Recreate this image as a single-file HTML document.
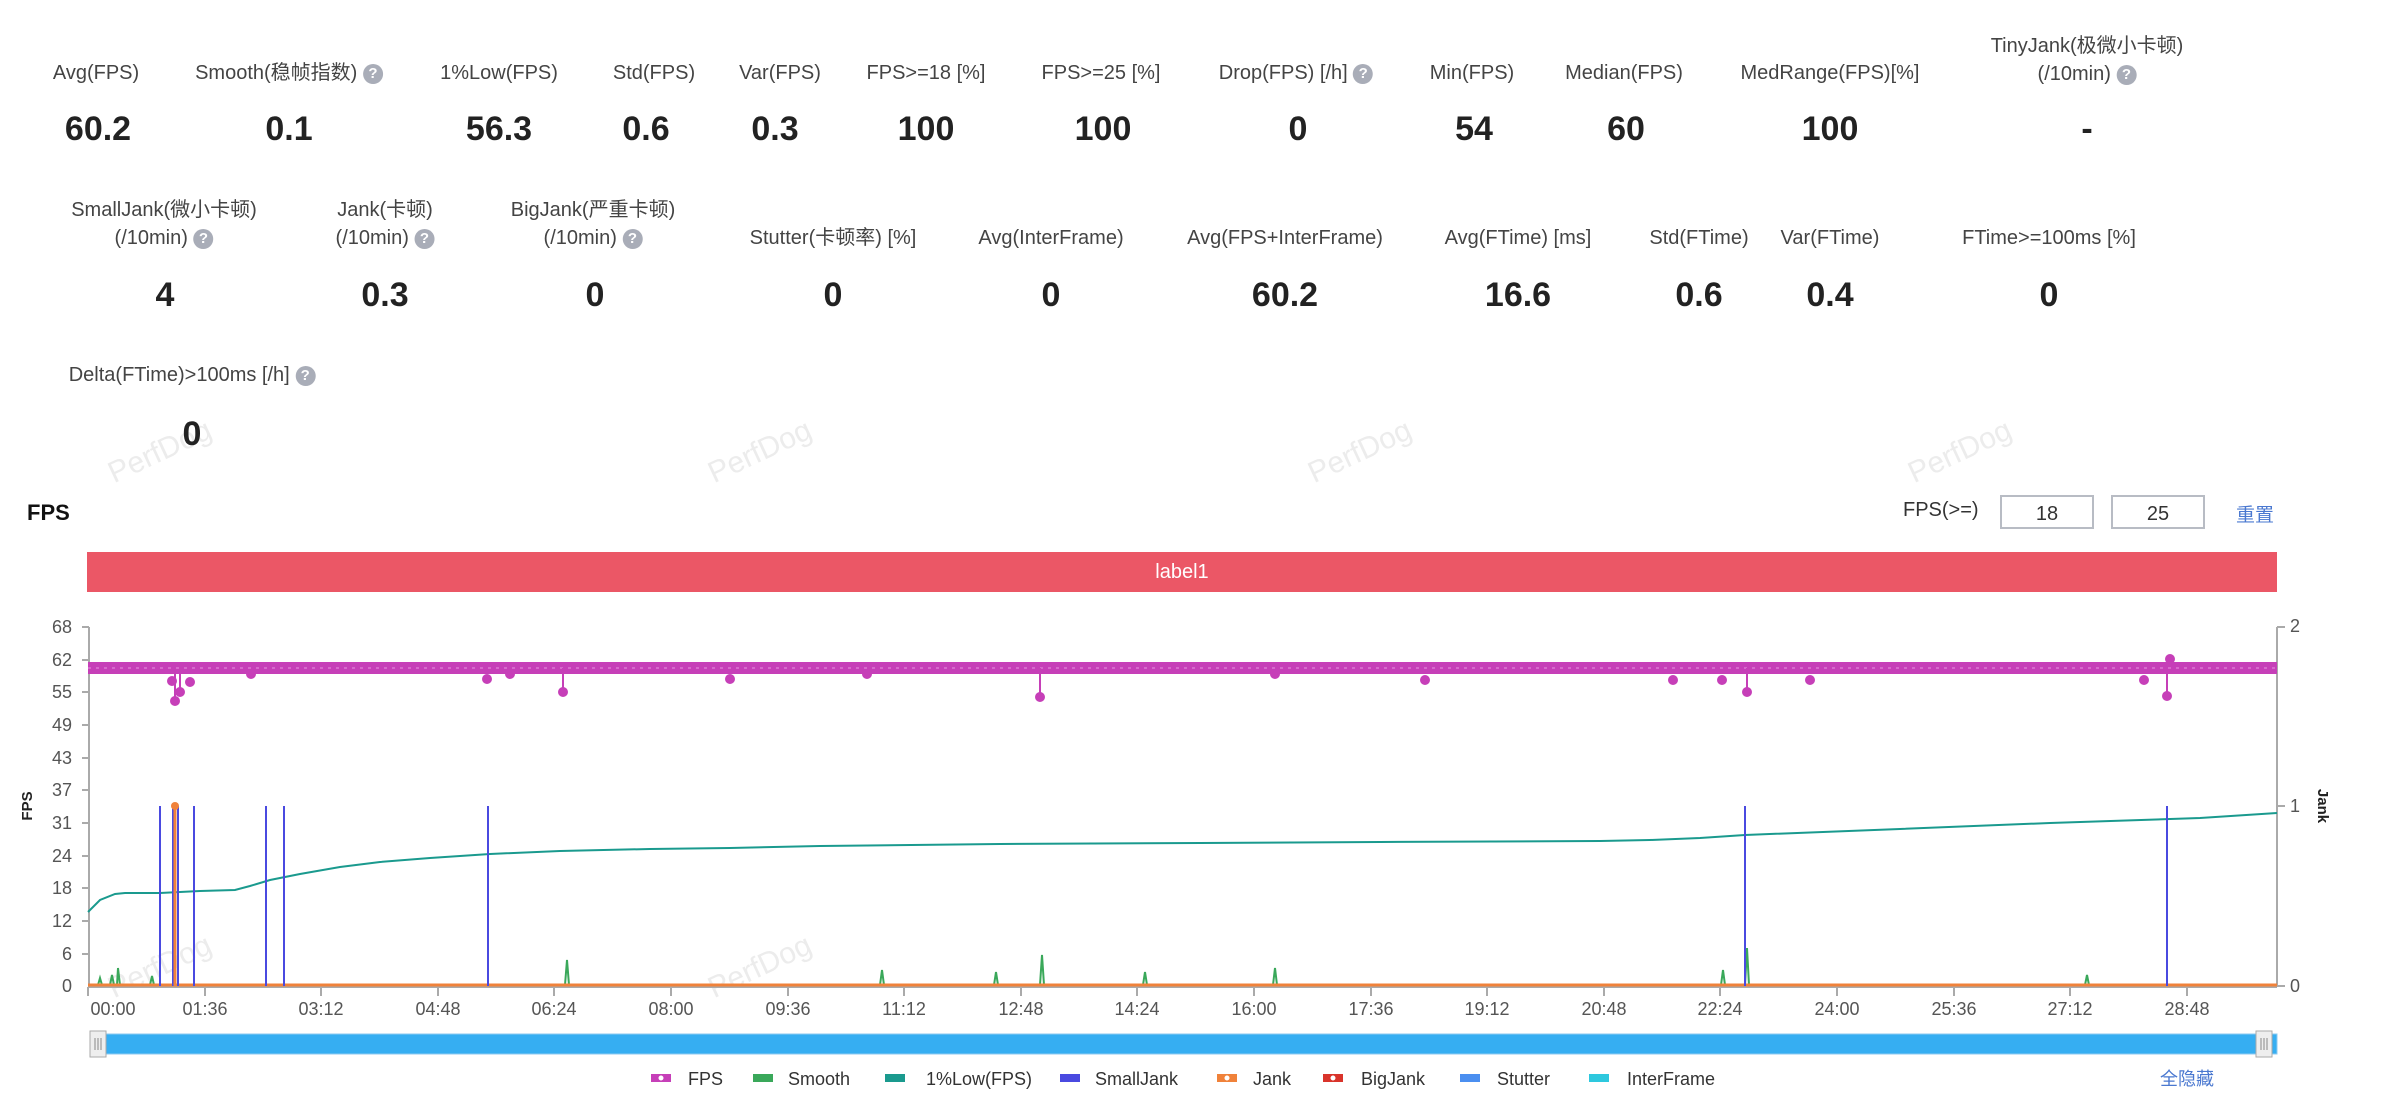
<!DOCTYPE html>
<html><head><meta charset="utf-8">
<style>
body{margin:0;width:2385px;height:1100px;background:#fff;font-family:"Liberation Sans","Noto Sans CJK SC",sans-serif;position:relative;overflow:hidden;color:#444}
.l{position:absolute;font-size:20px;color:#444;text-align:center;transform:translateX(-50%);white-space:nowrap;line-height:28px}
.v{position:absolute;font-size:34px;font-weight:bold;color:#222;transform:translateX(-50%);white-space:nowrap}
.q{display:inline-block;width:20px;height:20px;border-radius:50%;background:#a9adb8;color:#fff;font-size:15px;line-height:20px;text-align:center;font-weight:bold;vertical-align:1px}
.in{position:absolute;top:495px;width:94px;height:34px;border:2px solid #b8bcc4;font-size:20px;text-align:center;line-height:34px;color:#333;box-sizing:border-box}
.wm{position:absolute;font-size:30px;color:#ececec;transform:rotate(-25deg);white-space:nowrap}
</style></head><body>
<div class="wm" style="left:105px;top:435px">PerfDog</div>
<div class="wm" style="left:705px;top:435px">PerfDog</div>
<div class="wm" style="left:1305px;top:435px">PerfDog</div>
<div class="wm" style="left:1905px;top:435px">PerfDog</div>
<div class="wm" style="left:105px;top:950px">PerfDog</div>
<div class="wm" style="left:705px;top:950px">PerfDog</div>
<div class="l" style="left:96px;top:59px">Avg(FPS)</div>
<div class="l" style="left:289px;top:59px">Smooth(稳帧指数) <span class="q">?</span></div>
<div class="l" style="left:499px;top:59px">1%Low(FPS)</div>
<div class="l" style="left:654px;top:59px">Std(FPS)</div>
<div class="l" style="left:780px;top:59px">Var(FPS)</div>
<div class="l" style="left:926px;top:59px">FPS&gt;=18 [%]</div>
<div class="l" style="left:1101px;top:59px">FPS&gt;=25 [%]</div>
<div class="l" style="left:1296px;top:59px">Drop(FPS) [/h] <span class="q">?</span></div>
<div class="l" style="left:1472px;top:59px">Min(FPS)</div>
<div class="l" style="left:1624px;top:59px">Median(FPS)</div>
<div class="l" style="left:1830px;top:59px">MedRange(FPS)[%]</div>
<div class="l" style="left:2087px;top:32px">TinyJank(极微小卡顿)<br>(/10min) <span class="q">?</span></div>
<div class="v" style="left:98px;top:110px">60.2</div>
<div class="v" style="left:289px;top:110px">0.1</div>
<div class="v" style="left:499px;top:110px">56.3</div>
<div class="v" style="left:646px;top:110px">0.6</div>
<div class="v" style="left:775px;top:110px">0.3</div>
<div class="v" style="left:926px;top:110px">100</div>
<div class="v" style="left:1103px;top:110px">100</div>
<div class="v" style="left:1298px;top:110px">0</div>
<div class="v" style="left:1474px;top:110px">54</div>
<div class="v" style="left:1626px;top:110px">60</div>
<div class="v" style="left:1830px;top:110px">100</div>
<div class="v" style="left:2087px;top:110px">-</div>

<div class="l" style="left:164px;top:196px">SmallJank(微小卡顿)<br>(/10min) <span class="q">?</span></div>
<div class="l" style="left:385px;top:196px">Jank(卡顿)<br>(/10min) <span class="q">?</span></div>
<div class="l" style="left:593px;top:196px">BigJank(严重卡顿)<br>(/10min) <span class="q">?</span></div>
<div class="l" style="left:833px;top:224px">Stutter(卡顿率) [%]</div>
<div class="l" style="left:1051px;top:224px">Avg(InterFrame)</div>
<div class="l" style="left:1285px;top:224px">Avg(FPS+InterFrame)</div>
<div class="l" style="left:1518px;top:224px">Avg(FTime) [ms]</div>
<div class="l" style="left:1699px;top:224px">Std(FTime)</div>
<div class="l" style="left:1830px;top:224px">Var(FTime)</div>
<div class="l" style="left:2049px;top:224px">FTime&gt;=100ms [%]</div>
<div class="v" style="left:165px;top:276px">4</div>
<div class="v" style="left:385px;top:276px">0.3</div>
<div class="v" style="left:595px;top:276px">0</div>
<div class="v" style="left:833px;top:276px">0</div>
<div class="v" style="left:1051px;top:276px">0</div>
<div class="v" style="left:1285px;top:276px">60.2</div>
<div class="v" style="left:1518px;top:276px">16.6</div>
<div class="v" style="left:1699px;top:276px">0.6</div>
<div class="v" style="left:1830px;top:276px">0.4</div>
<div class="v" style="left:2049px;top:276px">0</div>

<div class="l" style="left:192px;top:361px">Delta(FTime)&gt;100ms [/h] <span class="q">?</span></div>
<div class="v" style="left:192px;top:415px">0</div>

<div style="position:absolute;left:27px;top:500px;font-size:22px;font-weight:bold;color:#111">FPS</div>
<div style="position:absolute;left:1903px;top:499px;font-size:20px;color:#333">FPS(&gt;=)</div>
<div class="in" style="left:2000px">18</div>
<div class="in" style="left:2111px">25</div>
<div style="position:absolute;left:2236px;top:500px;font-size:19px;color:#4a78d0">重置</div>

<div style="position:absolute;left:87px;top:552px;width:2190px;height:40px;background:#eb5766;color:#fff;font-size:20px;text-align:center;line-height:40px">label1</div>

<svg style="position:absolute;left:0;top:0" width="2385" height="1100">
<g font-family="Liberation Sans, sans-serif" font-size="18" fill="#555" text-anchor="end">
<text x="72" y="633">68</text><text x="72" y="666">62</text><text x="72" y="698">55</text><text x="72" y="731">49</text><text x="72" y="764">43</text><text x="72" y="796">37</text><text x="72" y="829">31</text><text x="72" y="862">24</text><text x="72" y="894">18</text><text x="72" y="927">12</text><text x="72" y="960">6</text><text x="72" y="992">0</text>
</g>
<g stroke="#aaa" stroke-width="2">
<line x1="89" y1="627" x2="89" y2="986"/>
<line x1="82" y1="627" x2="89" y2="627"/><line x1="82" y1="660" x2="89" y2="660"/><line x1="82" y1="692" x2="89" y2="692"/><line x1="82" y1="725" x2="89" y2="725"/><line x1="82" y1="758" x2="89" y2="758"/><line x1="82" y1="790" x2="89" y2="790"/><line x1="82" y1="823" x2="89" y2="823"/><line x1="82" y1="856" x2="89" y2="856"/><line x1="82" y1="888" x2="89" y2="888"/><line x1="82" y1="921" x2="89" y2="921"/><line x1="82" y1="954" x2="89" y2="954"/>
<line x1="2277" y1="627" x2="2277" y2="986"/>
<line x1="2277" y1="627" x2="2285" y2="627"/><line x1="2277" y1="806" x2="2285" y2="806"/><line x1="2277" y1="986" x2="2285" y2="986"/>
<line x1="88" y1="987" x2="2277" y2="987"/>
</g>
<g font-family="Liberation Sans, sans-serif" font-size="18" fill="#555">
<text x="2290" y="632">2</text><text x="2290" y="812">1</text><text x="2290" y="992">0</text>
</g>
<text transform="translate(32,806) rotate(-90)" font-family="Liberation Sans, sans-serif" font-size="15" font-weight="bold" fill="#222" text-anchor="middle">FPS</text>
<text transform="translate(2318,806) rotate(90)" font-family="Liberation Sans, sans-serif" font-size="15" font-weight="bold" fill="#222" text-anchor="middle">Jank</text>
<g stroke="#aaa" stroke-width="2">
<line x1="88" y1="987" x2="88" y2="996"/><line x1="205" y1="987" x2="205" y2="996"/><line x1="321" y1="987" x2="321" y2="996"/><line x1="438" y1="987" x2="438" y2="996"/><line x1="554" y1="987" x2="554" y2="996"/><line x1="671" y1="987" x2="671" y2="996"/><line x1="788" y1="987" x2="788" y2="996"/><line x1="904" y1="987" x2="904" y2="996"/><line x1="1021" y1="987" x2="1021" y2="996"/><line x1="1137" y1="987" x2="1137" y2="996"/><line x1="1254" y1="987" x2="1254" y2="996"/><line x1="1371" y1="987" x2="1371" y2="996"/><line x1="1487" y1="987" x2="1487" y2="996"/><line x1="1604" y1="987" x2="1604" y2="996"/><line x1="1720" y1="987" x2="1720" y2="996"/><line x1="1837" y1="987" x2="1837" y2="996"/><line x1="1954" y1="987" x2="1954" y2="996"/><line x1="2070" y1="987" x2="2070" y2="996"/><line x1="2187" y1="987" x2="2187" y2="996"/>
</g>
<g font-family="Liberation Sans, sans-serif" font-size="18" fill="#555" text-anchor="middle">
<text x="113" y="1015">00:00</text><text x="205" y="1015">01:36</text><text x="321" y="1015">03:12</text><text x="438" y="1015">04:48</text><text x="554" y="1015">06:24</text><text x="671" y="1015">08:00</text><text x="788" y="1015">09:36</text><text x="904" y="1015">11:12</text><text x="1021" y="1015">12:48</text><text x="1137" y="1015">14:24</text><text x="1254" y="1015">16:00</text><text x="1371" y="1015">17:36</text><text x="1487" y="1015">19:12</text><text x="1604" y="1015">20:48</text><text x="1720" y="1015">22:24</text><text x="1837" y="1015">24:00</text><text x="1954" y="1015">25:36</text><text x="2070" y="1015">27:12</text><text x="2187" y="1015">28:48</text>
</g>
<g stroke="#3aa85a" stroke-width="2" fill="none">
<polyline points="98,985 100,978 102,985 110,985 112,975 114,985 117,985 118,968 120,985 150,985 152,976 154,985 565,985 567,960 569,985 880,985 882,970 884,985 994,985 996,972 998,985 1040,985 1042,955 1044,985 1143,985 1145,972 1147,985 1273,985 1275,968 1277,985 1721,985 1723,970 1725,985 1745,985 1747,948 1749,985 2085,985 2087,975 2089,985"/>
</g>
<line x1="88" y1="985" x2="2277" y2="985" stroke="#f0823a" stroke-width="3"/>
<polyline fill="none" stroke="#1a9a8e" stroke-width="2" points="88,912 100,900 115,894 125,893 160,893 200,891 235,890 250,886 270,880 300,874 340,867 380,862 430,858 490,854 560,851 650,849 730,848 820,846 1000,844 1200,843 1380,842 1600,841 1650,840 1700,838 1745,835 1900,829 2050,823 2200,818 2277,813"/>
<g stroke="#4a4ae0" stroke-width="2">
<line x1="160" y1="986" x2="160" y2="806"/><line x1="173" y1="986" x2="173" y2="806"/><line x1="178" y1="986" x2="178" y2="806"/><line x1="194" y1="986" x2="194" y2="806"/><line x1="266" y1="986" x2="266" y2="806"/><line x1="284" y1="986" x2="284" y2="806"/><line x1="488" y1="986" x2="488" y2="806"/><line x1="1745" y1="986" x2="1745" y2="806"/><line x1="2167" y1="986" x2="2167" y2="806"/>
</g>
<line x1="175" y1="986" x2="175" y2="806" stroke="#f0823a" stroke-width="3"/>
<circle cx="175" cy="806" r="4" fill="#f0823a"/>
<rect x="88" y="662" width="2189" height="12" fill="#c63fb8"/>
<line x1="88" y1="668" x2="2277" y2="668" stroke="#d669cc" stroke-width="2" stroke-dasharray="3 5"/>
<g stroke="#c63fb8" stroke-width="2" fill="#c63fb8">
<line x1="175" y1="668" x2="175" y2="701"/><circle cx="175" cy="701" r="4"/>
<line x1="180" y1="668" x2="180" y2="692"/><circle cx="180" cy="692" r="4"/>
<circle cx="172" cy="681" r="4"/><circle cx="190" cy="682" r="4"/><circle cx="251" cy="674" r="4"/>
<circle cx="487" cy="679" r="4"/><circle cx="510" cy="674" r="4"/>
<line x1="563" y1="668" x2="563" y2="692"/><circle cx="563" cy="692" r="4"/>
<circle cx="730" cy="679" r="4"/><circle cx="867" cy="674" r="4"/>
<line x1="1040" y1="668" x2="1040" y2="697"/><circle cx="1040" cy="697" r="4"/>
<circle cx="1275" cy="674" r="4"/><circle cx="1425" cy="680" r="4"/><circle cx="1673" cy="680" r="4"/><circle cx="1722" cy="680" r="4"/>
<line x1="1747" y1="668" x2="1747" y2="692"/><circle cx="1747" cy="692" r="4"/>
<circle cx="1810" cy="680" r="4"/><circle cx="2144" cy="680" r="4"/>
<line x1="2167" y1="668" x2="2167" y2="696"/><circle cx="2167" cy="696" r="4"/>
<circle cx="2170" cy="659" r="4"/>
</g>
<rect x="91" y="1034" width="2186" height="20" fill="#36aef2" stroke="#8ccaf0"/>
<rect x="90" y="1031" width="16" height="26" fill="#eee" stroke="#aaa"/>
<rect x="2256" y="1031" width="16" height="26" fill="#eee" stroke="#aaa"/>
<g stroke="#888"><line x1="95" y1="1038" x2="95" y2="1050"/><line x1="98" y1="1038" x2="98" y2="1050"/><line x1="101" y1="1038" x2="101" y2="1050"/><line x1="2261" y1="1038" x2="2261" y2="1050"/><line x1="2264" y1="1038" x2="2264" y2="1050"/><line x1="2267" y1="1038" x2="2267" y2="1050"/></g>
<g font-family="Liberation Sans, sans-serif" font-size="18" fill="#333">
<rect x="651" y="1074" width="20" height="8" fill="#c63fb8"/><circle cx="661" cy="1078" r="3" fill="#fff" stroke="#c63fb8"/><text x="688" y="1085">FPS</text>
<rect x="753" y="1074" width="20" height="8" fill="#3aa85a"/><text x="788" y="1085">Smooth</text>
<rect x="885" y="1074" width="20" height="8" fill="#1a9a8e"/><text x="926" y="1085">1%Low(FPS)</text>
<rect x="1060" y="1074" width="20" height="8" fill="#4a4ae0"/><text x="1095" y="1085">SmallJank</text>
<rect x="1217" y="1074" width="20" height="8" fill="#f0823a"/><circle cx="1227" cy="1078" r="3" fill="#fff" stroke="#f0823a"/><text x="1253" y="1085">Jank</text>
<rect x="1323" y="1074" width="20" height="8" fill="#d9342b"/><circle cx="1333" cy="1078" r="3" fill="#fff" stroke="#d9342b"/><text x="1361" y="1085">BigJank</text>
<rect x="1460" y="1074" width="20" height="8" fill="#4b8ff0"/><text x="1497" y="1085">Stutter</text>
<rect x="1589" y="1074" width="20" height="8" fill="#2ec8de"/><text x="1627" y="1085">InterFrame</text>
<text x="2160" y="1085" fill="#4a78d0">全隐藏</text>
</g>
</svg>
</body></html>
